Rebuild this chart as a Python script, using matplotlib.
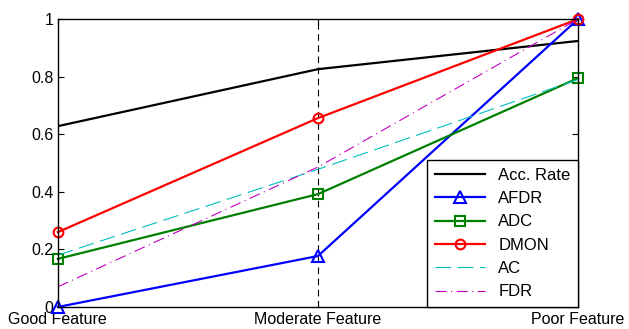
import numpy as np
import matplotlib
matplotlib.use('Agg')
import matplotlib.pyplot as plt

plt.rcParams['font.family'] = ['Liberation Sans', 'DejaVu Sans']

categories = ['Good Feature', 'Moderate Feature', 'Poor Feature']
acc_rate = [0.628, 0.826, 0.924]
afdr = [0.0, 0.177, 1.0]
adc = [0.167, 0.392, 0.795]
dmon = [0.26, 0.656, 1.0]
ac = [0.18, 0.478, 0.79]
fdr = [0.07, 0.486, 1.0]

x = np.arange(len(categories))

fig = plt.figure(figsize=(6.29, 3.29), dpi=100)
ax = fig.add_axes([0.092, 0.067, 0.827, 0.875])

ax.axvline(1, color='black', linestyle=(0, (6, 4)), linewidth=0.8)

ax.plot(x, acc_rate, color='black', linewidth=1.6, label='Acc. Rate')
ax.plot(x, afdr, color='blue', linewidth=1.6, marker='^', markersize=8,
        markerfacecolor='none', markeredgewidth=1.5, label='AFDR', clip_on=False)
ax.plot(x, adc, color='green', linewidth=1.6, marker='s', markersize=7,
        markerfacecolor='none', markeredgewidth=1.5, label='ADC', clip_on=False)
ax.plot(x, dmon, color='red', linewidth=1.6, marker='o', markersize=7,
        markerfacecolor='none', markeredgewidth=1.5, label='DMON', clip_on=False)
ax.plot(x, ac, color='#00bfbf', linewidth=0.8, linestyle=(0, (14, 6)), label='AC')
ax.plot(x, fdr, color='#bf00bf', linewidth=0.8, linestyle=(0, (10, 4, 1, 4)), label='FDR')

ax.set_xlim(0, 2)
ax.set_ylim(0, 1)
ax.set_xticks(x)
ax.set_xticklabels(categories)
ax.set_yticks([0, 0.2, 0.4, 0.6, 0.8, 1])
ax.set_yticklabels(['0', '0.2', '0.4', '0.6', '0.8', '1'])
ax.tick_params(direction='in', top=True, right=True, labelsize=11.5, length=4)
ax.tick_params(axis='y', pad=3)
for s in ax.spines.values():
    s.set_linewidth(1.0)

leg = ax.legend(loc='lower right', fontsize=12, borderaxespad=0, fancybox=False,
                edgecolor='black', framealpha=1, handlelength=3.0, labelspacing=0.5,
                borderpad=0.45)
leg.get_frame().set_linewidth(1.0)

fig.savefig('out.png', dpi=100)
